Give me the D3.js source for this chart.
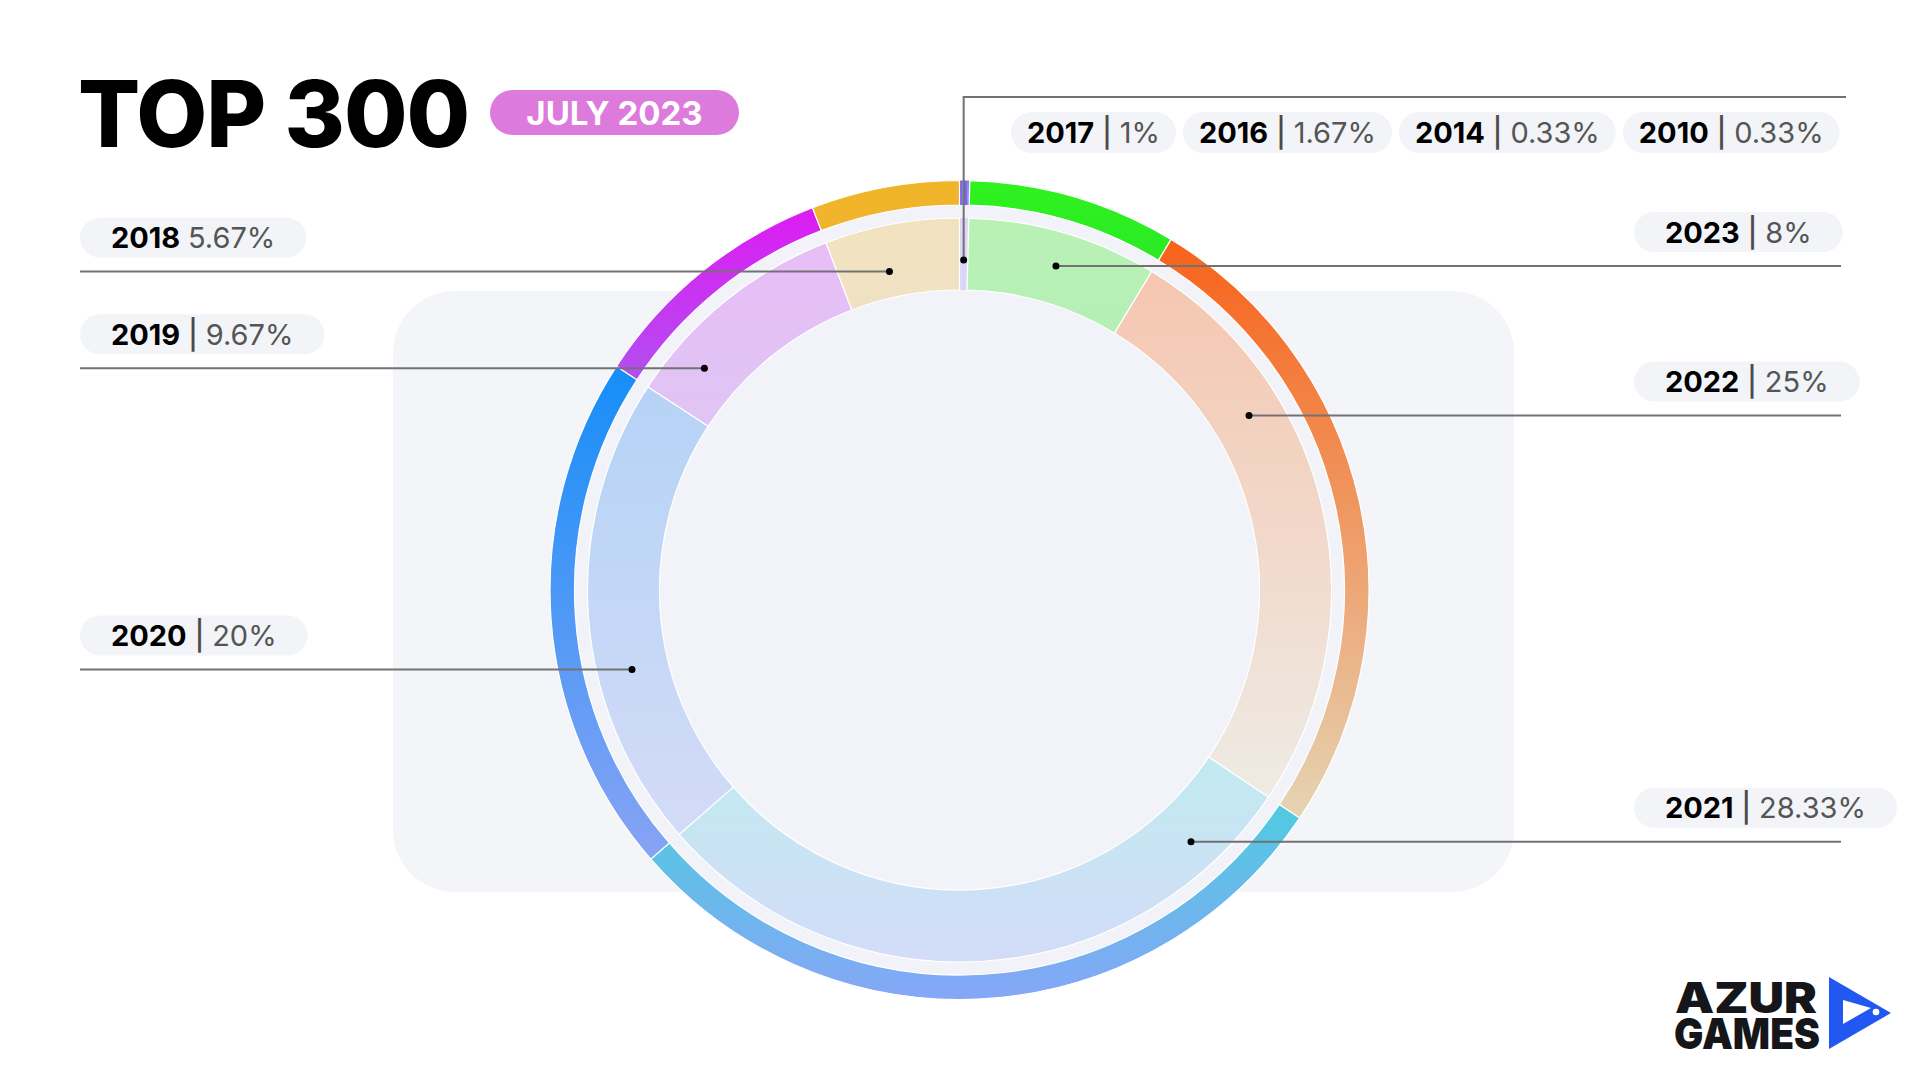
<!DOCTYPE html>
<html><head><meta charset="utf-8">
<script src="https://cdn.jsdelivr.net/npm/d3@7"></script>
<style>
html,body{margin:0;padding:0;background:#fff;}
svg{display:block;font-family:Inter,"Noto Sans",sans-serif;}
</style>
</head><body>
<svg id="chart" width="1920" height="1080"></svg>
<script>
// ---------------- data ----------------
const years       = ["2017","2016","2014","2010","2023","2022","2021","2020","2019","2018"];
const shares      = [1, 1.67, 0.33, 0.33, 8, 25, 28.33, 20, 9.67, 5.67];
const shareLabels = ["1%","1.67%","0.33%","0.33%","8%","25%","28.33%","20%","9.67%","5.67%"];
const minorYears  = ["2017","2016","2014","2010"];   // drawn squeezed into one thin sliver at 12 o'clock
const leftYears   = ["2018","2019","2020"];
const rightYears  = ["2023","2022","2021"];
const noPipeYears = ["2018"];
const titleText   = "TOP 300";
const periodText  = "JULY 2023";

// ---------------- styles / layout ----------------
const palette = {
  "2023": {o:["#2ff21f","#2be925"], i:["#b9f1b5","#b6efb6"]},
  "2022": {o:["#f86219","#e5d4b4"], i:["#f5c6b0","#eeebe4"]},
  "2021": {o:["#4fcbe0","#86a6f7"], i:["#c1eaf0","#d3dcf8"]},
  "2020": {o:["#168ef8","#88a3f4"], i:["#b5d3f6","#d3dbf7"]},
  "2019": {o:["#dc1cf3","#b34ef0"], i:["#e8bdf6","#dfc5f4"]},
  "2018": {o:["#f1b428","#efb52e"], i:["#f2e2bf","#efe2c4"]},
  minor:  {o:["#7a66e6","#7a66e6"], i:["#d9d5f6","#d9d5f6"]}
};
const cx = 959.5, cy = 590;
const R = {outerOut:409.5, outerIn:385, innerOut:372, innerIn:300};
const minorScale = 0.117;
const startDeg = 0;
const anchorFrac = {"2018":0.41,"2019":0.22,"2020":0.37,"2023":0.51,"2022":0.30,"2021":0.129};
const anchorR    = {"2018":326,"2020":337,"2021":342,"minor":330};
const defaultAnchorR = 338;

const svg = d3.select("#chart");
const defs = svg.append("defs");

// background panel
svg.append("rect").attr("x",393).attr("y",291).attr("width",1121).attr("height",601)
  .attr("rx",62).attr("fill","#f3f5f9");

// title
svg.append("text").attr("x",78).attr("y",147).attr("font-size",92).attr("font-weight",800)
  .attr("fill","#000").attr("letter-spacing",-1).text(titleText);
svg.append("rect").attr("x",490).attr("y",90).attr("width",249).attr("height",45).attr("rx",22.5)
  .attr("fill","#dc7bdc");
svg.append("text").attr("x",614.5).attr("y",125).attr("text-anchor","middle")
  .attr("font-size",33).attr("font-weight",700).attr("fill","#fff").text(periodText);

// ---------------- donut ----------------
const pieData = years.map((y,i)=>({year:y, share:shares[i], label:shareLabels[i],
  w: minorYears.includes(y) ? shares[i]*minorScale : shares[i]}));
const a0 = startDeg*Math.PI/180;
const arcs = d3.pie().sort(null).value(d=>d.w).startAngle(a0).endAngle(a0+2*Math.PI)(pieData);

const g = svg.append("g").attr("transform",`translate(${cx},${cy})`);
g.append("circle").attr("r",R.outerIn).attr("fill","#f1f3f8");

function grad(id, c){
  const lg = defs.append("linearGradient").attr("id",id)
    .attr("x1",0).attr("y1",0).attr("x2",0).attr("y2",1);
  lg.append("stop").attr("offset","0%").attr("stop-color",c[0]);
  lg.append("stop").attr("offset","100%").attr("stop-color",c[1]);
}
arcs.forEach(a=>{
  const p = palette[a.data.year] || palette.minor;
  grad("go"+a.data.year, p.o);
  grad("gi"+a.data.year, p.i);
});
const arcOuter = d3.arc().innerRadius(R.outerIn).outerRadius(R.outerOut);
const arcInner = d3.arc().innerRadius(R.innerIn).outerRadius(R.innerOut);
const isMinor = d=>minorYears.includes(d.data.year);
g.selectAll("path.outer").data(arcs).join("path").attr("class","outer")
  .attr("d",arcOuter).attr("fill",d=>`url(#go${d.data.year})`)
  .attr("stroke",d=>isMinor(d)?"none":"#fff").attr("stroke-width",1.2);
g.selectAll("path.inner").data(arcs).join("path").attr("class","inner")
  .attr("d",arcInner).attr("fill",d=>`url(#gi${d.data.year})`)
  .attr("stroke",d=>isMinor(d)?"none":"#fff").attr("stroke-width",1.2);

// ---------------- labels ----------------
function anchorAt(t, r){ return [cx + r*Math.sin(t), cy - r*Math.cos(t)]; }
function anchor(year){
  const a = arcs.find(d=>d.data.year===year);
  const t = a.startAngle + (a.endAngle-a.startAngle)*anchorFrac[year];
  return anchorAt(t, anchorR[year] || defaultAnchorR);
}
const lineColor = "#727272";
const labG = svg.append("g");

function pill(x, y, h, pad, year){
  const d = pieData.find(p=>p.year===year);
  const gg = labG.append("g");
  const r = gg.append("rect").attr("x",x).attr("y",y).attr("height",h).attr("rx",h/2).attr("fill","#f2f4f8");
  const t = gg.append("text").attr("x",x+pad).attr("y",y+h/2+10.5).attr("font-size",29);
  t.append("tspan").attr("font-weight",700).attr("fill","#000").text(d.year);
  t.append("tspan").attr("font-weight",500).attr("fill","#4a4a4a").attr("xml:space","preserve")
    .text(noPipeYears.includes(year) ? " " : " | ");
  t.append("tspan").attr("font-weight",400).attr("fill","#555").text(d.label);
  const w = t.node().getComputedTextLength() + pad*2;
  r.attr("width",w);
  return w;
}

leftYears.forEach(y=>{
  const [ax,ay] = anchor(y);
  labG.append("line").attr("x1",80).attr("x2",ax).attr("y1",ay).attr("y2",ay)
    .attr("stroke",lineColor).attr("stroke-width",2);
  labG.append("circle").attr("cx",ax).attr("cy",ay).attr("r",3.5).attr("fill","#000");
  pill(80, ay-54, 40, 31, y);
});
rightYears.forEach(y=>{
  const [ax,ay] = anchor(y);
  labG.append("line").attr("x1",ax).attr("x2",1841).attr("y1",ay).attr("y2",ay)
    .attr("stroke",lineColor).attr("stroke-width",2);
  labG.append("circle").attr("cx",ax).attr("cy",ay).attr("r",3.5).attr("fill","#000");
  pill(1634, ay-54, 40, 31, y);
});
// top group (minor years share one leader to the middle of the sliver)
{
  const ms = arcs.filter(isMinor);
  const tMid = (d3.min(ms,d=>d.startAngle) + d3.max(ms,d=>d.endAngle))/2;
  const [ax,ay] = anchorAt(tMid, anchorR.minor);
  labG.append("path").attr("d",`M${ax},${ay}V97H1846`).attr("fill","none")
    .attr("stroke",lineColor).attr("stroke-width",2);
  labG.append("circle").attr("cx",ax).attr("cy",ay).attr("r",3.5).attr("fill","#000");
  let x = 1011;
  minorYears.forEach(y=>{ x += pill(x, 112, 41, 16, y) + 7; });
}

// ---------------- logo ----------------
const logo = svg.append("g");
const lt = logo.append("text").attr("font-size",43).attr("font-weight",900).attr("fill","#14161a");
lt.append("tspan").attr("x",1675).attr("y",1013).attr("textLength",142)
  .attr("lengthAdjust","spacingAndGlyphs").text("AZUR");
lt.append("tspan").attr("x",1674).attr("y",1049).attr("textLength",146)
  .attr("lengthAdjust","spacingAndGlyphs").text("GAMES");
logo.append("path").attr("d","M1829,977L1829,1049L1891,1013Z").attr("fill","#2258f2");
logo.append("path").attr("d","M1843,1000L1843,1024L1857,1016L1871,1008Z").attr("fill","#fff");
logo.append("circle").attr("cx",1876).attr("cy",1012).attr("r",3.3).attr("fill","#fff");
</script>
</body></html>
